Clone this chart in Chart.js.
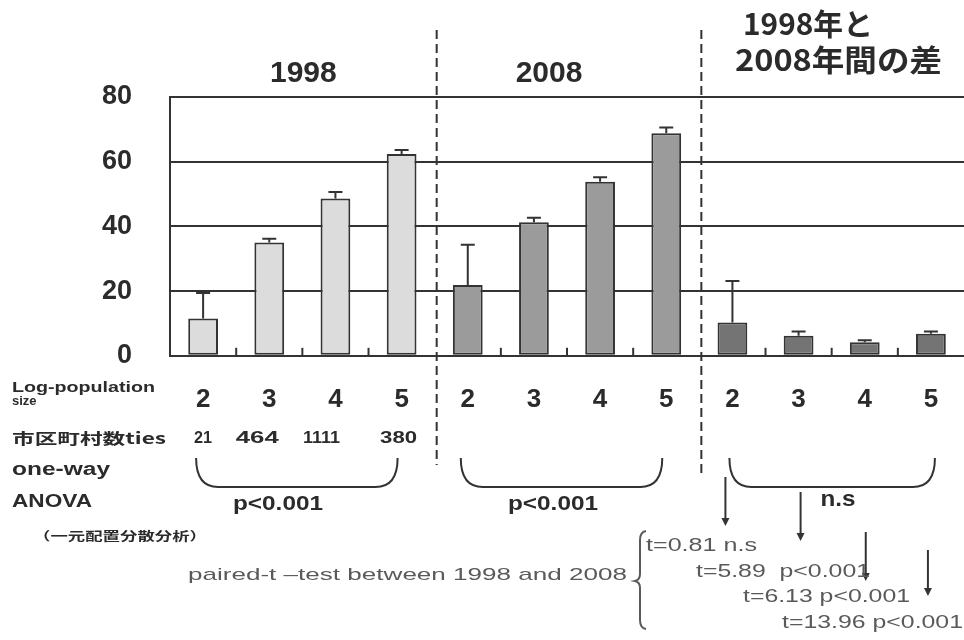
<!DOCTYPE html>
<html>
<head>
<meta charset="utf-8">
<script src="https://cdn.jsdelivr.net/npm/chart.js@4.4.1/dist/chart.umd.min.js"></script>
<style>
  html, body { margin: 0; padding: 0; background: #fff; }
  #wrap { width: 964px; height: 640px; }
</style>
</head>
<body>
<div id="wrap"><canvas id="c" width="964" height="640"></canvas></div>
<script>
// Log-population size classes, repeated for each panel
const sizeClasses = ['2', '3', '4', '5'];
const panelTitles = ['1998', '2008'];

// Mean values with upper error (SD) per size class
const mean1998 = [11.5, 35.0, 48.6, 62.4];
const err1998  = [7.9, 1.2, 2.0, 1.2];
const mean2008 = [21.9, 41.3, 53.8, 68.8];
const err2008  = [12.4, 1.4, 1.4, 1.8];
const meanDiff = [10.3, 6.2, 4.2, 6.8];
const errDiff  = [12.8, 1.3, 0.6, 0.7];

// Number of municipalities per size class
const counts1998 = ['21', '464', '1111', '380'];
// one-way ANOVA results per panel
const anovaResults = ['p<0.001', 'p<0.001', 'n.s'];
// paired t-test between 1998 and 2008 per size class
const tValues  = ['0.81', '5.89', '6.13', '13.96'];
const tResults = ['n.s', 'p<0.001', 'p<0.001', 'p<0.001'];

const INK = '#2b2b2b';
const SOFT = '#5a5a5a';
const LAT = '"Liberation Sans", Arial, sans-serif';
const CJK = '"Noto Sans CJK JP", "Liberation Sans", sans-serif';

const labels = [...sizeClasses, ...sizeClasses, ...sizeClasses];
function place(values, panel) {
  const out = new Array(labels.length).fill(null);
  values.forEach((v, i) => { out[panel * 4 + i] = v; });
  return out;
}

const barStyle = {
  grouped: false,
  categoryPercentage: 1,
  barPercentage: 0.45,
  borderWidth: 2,
  borderColor: '#333',
  borderSkipped: false
};

// text helper: optional horizontal fit to a given width
function txt(ctx, s, x, y, o) {
  ctx.save();
  ctx.font = o.font;
  ctx.fillStyle = o.color || INK;
  ctx.textBaseline = 'alphabetic';
  ctx.textAlign = 'left';
  const w = ctx.measureText(s).width;
  const sx = o.width ? o.width / w : 1;
  const fw = w * sx;
  let left = x;
  if (o.align === 'center') left = x - fw / 2;
  else if (o.align === 'right') left = x - fw;
  ctx.translate(left, y);
  ctx.scale(sx, 1);
  ctx.fillText(s, 0, 0);
  ctx.restore();
}

const errorBars = {
  id: 'errorBars',
  afterDatasetsDraw(chart) {
    const ctx = chart.ctx, y = chart.scales.y;
    ctx.save();
    ctx.strokeStyle = '#333';
    ctx.lineWidth = 2;
    chart.data.datasets.forEach((ds, di) => {
      const meta = chart.getDatasetMeta(di);
      ds.data.forEach((v, i) => {
        if (v == null) return;
        const el = meta.data[i];
        const top = y.getPixelForValue(v + ds.errors[i]);
        ctx.beginPath();
        ctx.moveTo(el.x, el.y);
        ctx.lineTo(el.x, top);
        ctx.moveTo(el.x - 7, top);
        ctx.lineTo(el.x + 7, top);
        ctx.stroke();
      });
    });
    ctx.restore();
  }
};

const annotations = {
  id: 'annotations',
  afterDraw(chart) {
    const ctx = chart.ctx, xs = chart.scales.x, area = chart.chartArea;
    const cx = i => xs.getPixelForValue(i);
    const edge = k => (cx(k - 1) + cx(k)) / 2;

    ctx.save();
    ctx.strokeStyle = '#333';
    ctx.lineWidth = 2;

    // small inner ticks between bars
    for (let k = 1; k < labels.length; k++) {
      if (k % 4 === 0) continue;
      ctx.beginPath();
      ctx.moveTo(edge(k), area.bottom);
      ctx.lineTo(edge(k), area.bottom - 8);
      ctx.stroke();
    }

    // dashed separators between panels
    ctx.setLineDash([9, 5]);
    [4, 8].forEach(k => {
      ctx.beginPath();
      ctx.moveTo(edge(k) + 2, 30);
      ctx.lineTo(edge(k) + 2, k === 4 ? 465 : 477);
      ctx.stroke();
    });
    ctx.setLineDash([]);

    // panel titles
    txt(ctx, panelTitles[0], (cx(0) + cx(3)) / 2 + 1, 82, { font: `bold 30px ${LAT}`, align: 'center' });
    txt(ctx, panelTitles[1], (cx(4) + cx(7)) / 2 - 18, 82, { font: `bold 30px ${LAT}`, align: 'center' });
    txt(ctx, '1998年と', 743, 35, { font: `bold 30px ${CJK}`, width: 130 });
    txt(ctx, '2008年間の差', 735, 71, { font: `bold 30px ${CJK}`, width: 207 });

    // row headings
    txt(ctx, 'Log-population', 12, 392, { font: `bold 14px ${LAT}`, width: 143 });
    txt(ctx, 'size', 12, 405, { font: `bold 13px ${LAT}` });
    txt(ctx, '市区町村数ties', 12, 444, { font: `bold 15px ${CJK}`, width: 154 });
    txt(ctx, 'one-way', 12, 475, { font: `bold 18px ${LAT}`, width: 98 });
    txt(ctx, 'ANOVA', 12, 507, { font: `bold 19px ${LAT}`, width: 80 });
    txt(ctx, '（一元配置分散分析）', 33, 541, { font: `bold 12px ${CJK}`, width: 174 });

    // municipality counts
    const countDx = [0, -12, -14, -3];
    const countW = [18, 43, 37, 37];
    counts1998.forEach((s, i) => {
      txt(ctx, s, cx(i) + countDx[i], 443, { font: `bold 17px ${LAT}`, align: 'center', width: countW[i] });
    });

    // ANOVA braces and results
    const anovaX = [278, 553, 838];
    for (let p = 0; p < 3; p++) {
      const x0 = cx(p * 4) - 7 + (p === 2 ? 4 : 0);
      const x1 = cx(p * 4 + 3) - 4 + (p === 2 ? 8 : 0);
      const yt = 458, yb = 487, r = 22;
      ctx.beginPath();
      ctx.moveTo(x0, yt);
      ctx.quadraticCurveTo(x0, yb, x0 + r, yb);
      ctx.lineTo(x1 - r, yb);
      ctx.quadraticCurveTo(x1, yb, x1, yt);
      ctx.stroke();
      const isNs = anovaResults[p] === 'n.s';
      txt(ctx, anovaResults[p], anovaX[p], isNs ? 506 : 510,
        { font: `bold ${isNs ? 22 : 20}px ${LAT}`, align: 'center', width: isNs ? 35 : 90 });
    }

    // arrows from the difference panel to the t-test results
    const arrowY = [[477, 526], [492, 541], [532, 581], [550, 596]];
    const arrowDx = [-7, 2, 1, -3];
    ctx.fillStyle = '#333';
    arrowY.forEach(([a, b], i) => {
      const x = cx(8 + i) + arrowDx[i];
      ctx.beginPath();
      ctx.moveTo(x, a);
      ctx.lineTo(x, b - 6);
      ctx.stroke();
      ctx.beginPath();
      ctx.moveTo(x - 4, b - 8);
      ctx.lineTo(x + 4, b - 8);
      ctx.lineTo(x, b);
      ctx.closePath();
      ctx.fill();
    });

    // paired t-test block
    txt(ctx, 'paired-t –test between 1998 and 2008', 188, 580,
      { font: `17px ${LAT}`, color: SOFT, width: 439 });
    ctx.strokeStyle = SOFT;
    ctx.lineWidth = 2;
    ctx.beginPath();
    ctx.moveTo(646, 531);
    ctx.quadraticCurveTo(640, 532, 640, 540);
    ctx.lineTo(640, 574);
    ctx.quadraticCurveTo(640, 580, 635, 581);
    ctx.quadraticCurveTo(640, 582, 640, 588);
    ctx.lineTo(640, 620);
    ctx.quadraticCurveTo(640, 628, 646, 629);
    ctx.stroke();

    const tPos = [[646, 551, 111], [696, 577, 174], [743, 602, 167], [782, 628, 181]];
    tValues.forEach((t, i) => {
      const s = 't=' + t + (i === 1 ? '  ' : ' ') + tResults[i];
      const [x, y, w] = tPos[i];
      txt(ctx, s, x, y, { font: `19px ${LAT}`, color: SOFT, width: w });
    });
    ctx.restore();
  }
};

new Chart(document.getElementById('c'), {
  type: 'bar',
  data: {
    labels,
    datasets: [
      { label: '1998', data: place(mean1998, 0), errors: place(err1998, 0), backgroundColor: '#dcdcdc', ...barStyle },
      { label: '2008', data: place(mean2008, 1), errors: place(err2008, 1), backgroundColor: '#9b9b9b', ...barStyle },
      { label: '1998年と2008年間の差', data: place(meanDiff, 2), errors: place(errDiff, 2), backgroundColor: '#747474', ...barStyle }
    ]
  },
  options: {
    responsive: false,
    animation: false,
    layout: { padding: { left: 64, top: 97, right: 0, bottom: 197 } },
    plugins: { legend: { display: false }, tooltip: { enabled: false } },
    scales: {
      x: {
        grid: { display: false, drawTicks: false },
        border: { display: true, color: '#333', width: 2 },
        ticks: { color: INK, padding: 28, maxRotation: 0, autoSkip: false,
                 font: { family: LAT, size: 26, weight: 'bold' } },
        afterFit(scale) { scale.paddingLeft = 0; scale.paddingRight = 0; }
      },
      y: {
        min: 0, max: 80,
        grid: { color: '#333', lineWidth: 2, drawTicks: false },
        border: { display: true, color: '#333', width: 2 },
        ticks: { stepSize: 20, color: INK, padding: 38,
                 font: { family: LAT, size: 27, weight: 'bold' } }
      }
    }
  },
  plugins: [errorBars, annotations]
});
</script>
</body>
</html>
